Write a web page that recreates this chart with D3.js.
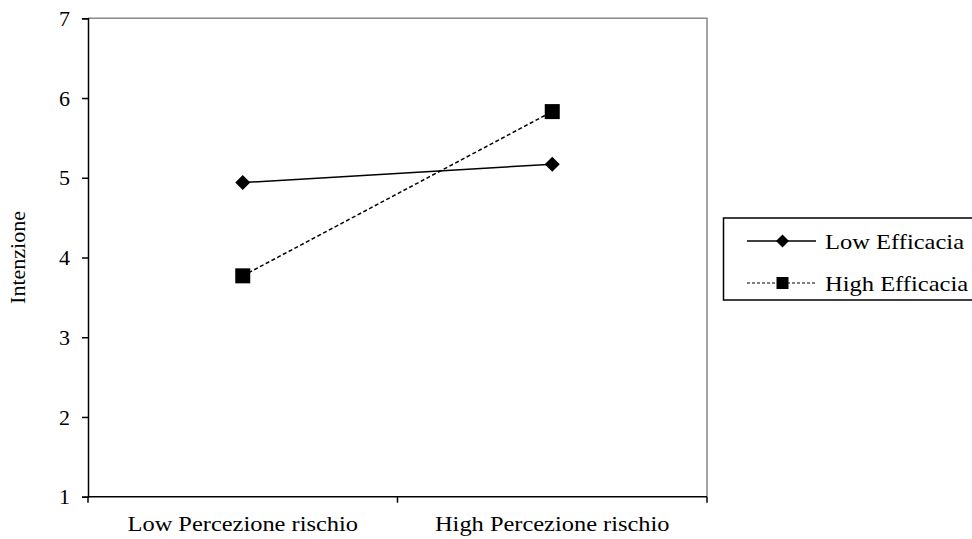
<!DOCTYPE html>
<html><head><meta charset="utf-8">
<script src="https://cdn.jsdelivr.net/npm/d3@7"></script>
<style>body{margin:0;background:#fff}svg{display:block}text{font-family:"Liberation Serif","Times New Roman",serif;fill:#000}</style>
</head><body><svg id="c" width="972" height="539"></svg>
<script>
const categories = ["Low Percezione rischio", "High Percezione rischio"];
const seriesNames = ["Low Efficacia", "High Efficacia"];
const lowEfficacia = [4.94, 5.17];
const highEfficacia = [3.77, 5.83];
const yTicks = [1, 2, 3, 4, 5, 6, 7];

const svg = d3.select("#c");
const L = 88, R = 707, T = 18.3, B = 496.7;
const x = d3.scaleBand().domain(categories).range([L, R]);
const y = d3.scaleLinear().domain([1, 7]).range([B, T]);
const fs = 22;

// frame (top/right gray)
svg.append("path").attr("d", `M${L},${T}H${R}V${B}`).attr("fill","none").attr("stroke","#888").attr("stroke-width",1.5);

// y axis
const ya = svg.append("g").attr("transform", `translate(${L},0)`)
  .call(d3.axisLeft(y).tickValues(yTicks).tickSize(6).tickPadding(12).tickFormat(d3.format("d")));
ya.attr("font-family", null).attr("font-size", null);
ya.select(".domain").attr("stroke","#000").attr("stroke-width",1.5);
ya.selectAll(".tick line").attr("stroke","#000").attr("stroke-width",1.5);
ya.selectAll("text").style("font-family","'Liberation Serif', serif").style("font-size",fs+"px").attr("fill","#000");

// x axis with boundary ticks
const xa = svg.append("g").attr("transform", `translate(0,${B})`);
xa.append("line").attr("x1",L).attr("x2",R).attr("stroke","#000").attr("stroke-width",1.5);
const bounds = [L, ...categories.slice(1).map(c => x(c)), R];
xa.selectAll("line.tk").data(bounds).join("line").attr("class","tk")
  .attr("x1",d=>d).attr("x2",d=>d).attr("y1",0).attr("y2",6).attr("stroke","#000").attr("stroke-width",1.5);
xa.selectAll("text").data(categories).join("text")
  .attr("transform", d => `translate(${x(d) + x.bandwidth()/2},34) scale(1.11,1)`)
  .attr("text-anchor","middle").style("font-size",fs+"px").text(d=>d);

// y label
svg.append("text").attr("transform", `translate(25,${(T+B)/2}) rotate(-90)`)
  .attr("text-anchor","middle").style("font-size",fs+"px").text("Intenzione");

const cx = d => x(d) + x.bandwidth()/2;
const line = d3.line().x(d=>cx(d.c)).y(d=>y(d.v));
const mk = (vals) => vals.map((v,i)=>({c:categories[i], v}));

const diamond = (s) => `M0,${-s}L${s},0L0,${s}L${-s},0Z`;

// series lines
svg.append("path").attr("d", line(mk(lowEfficacia))).attr("fill","none").attr("stroke","#000").attr("stroke-width",1.5);
svg.append("path").attr("d", line(mk(highEfficacia))).attr("fill","none").attr("stroke","#000").attr("stroke-width",1.5).attr("stroke-dasharray","4,2.5");

svg.selectAll("path.dm").data(mk(lowEfficacia)).join("path").attr("class","dm")
  .attr("transform", d=>`translate(${cx(d.c)},${y(d.v)})`).attr("d", diamond(7.5)).attr("fill","#000");
svg.selectAll("rect.sq").data(mk(highEfficacia)).join("rect").attr("class","sq")
  .attr("x", d=>cx(d.c)-7.5).attr("y", d=>y(d.v)-7.5).attr("width",15).attr("height",15).attr("fill","#000");

// legend
const lg = svg.append("g");
lg.append("rect").attr("x",723.5).attr("y",218).attr("width",260).attr("height",82).attr("fill","none").attr("stroke","#000").attr("stroke-width",1.5);
const rows = [241, 283];
lg.append("line").attr("x1",747).attr("x2",816).attr("y1",rows[0]).attr("y2",rows[0]).attr("stroke","#000").attr("stroke-width",1.5);
lg.append("path").attr("transform",`translate(782.5,${rows[0]})`).attr("d",diamond(6.5)).attr("fill","#000");
lg.append("line").attr("x1",747).attr("x2",816).attr("y1",rows[1]).attr("y2",rows[1]).attr("stroke","#000").attr("stroke-width",1.2).attr("stroke-dasharray","3,2");
lg.append("rect").attr("x",776.5).attr("y",rows[1]-6).attr("width",12).attr("height",12).attr("fill","#000");
lg.selectAll("text.lt").data(seriesNames).join("text").attr("class","lt")
  .attr("transform",(d,i)=>`translate(825,${rows[i]}) scale(1.115,1)`).attr("dy","0.35em").style("font-size",fs+"px").text(d=>d);
</script></body></html>
